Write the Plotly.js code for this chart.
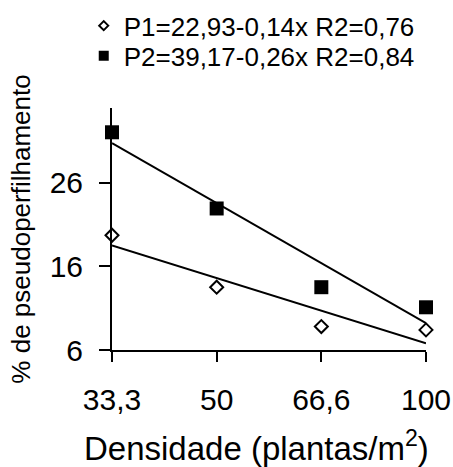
<!DOCTYPE html>
<html>
<head>
<meta charset="utf-8">
<script src="https://cdn.plot.ly/plotly-3.0.1.min.js"></script>
<style>html,body{margin:0;padding:0;background:#fff;}#chart{width:453px;height:467px;}</style>
</head>
<body>
<div id="chart"></div>
<script>
// Data
var densidade = ["33,3", "50", "66,6", "100"];
var p1Values = [19.7, 13.5, 8.8, 8.4];
var p2Values = [32.0, 22.9, 13.5, 11.1];
// Trend lines (endpoints)
var trendX = ["33,3", "100"];
var p1Trend = [18.5, 6.8];
var p2Trend = [30.7, 9.2];
var p1Label = "P1=22,93-0,14x R2=0,76";
var p2Label = "P2=39,17-0,26x R2=0,84";
var yTicks = [6, 16, 26];
var xTitle = "Densidade (plantas/m<sup>2</sup>)";
var yTitle = "% de pseudoperfilhamento";

var font = "Liberation Sans, Arial, sans-serif";

var traces = [
  {x: trendX, y: p1Trend, mode: "lines", line: {color: "black", width: 2}, showlegend: false, hoverinfo: "skip"},
  {x: trendX, y: p2Trend, mode: "lines", line: {color: "black", width: 2}, showlegend: false, hoverinfo: "skip"},
  {x: densidade, y: p1Values, mode: "markers", showlegend: false, cliponaxis: false,
   marker: {symbol: "diamond", size: 10, color: "white", line: {color: "black", width: 2}}},
  {x: densidade, y: p2Values, mode: "markers", showlegend: false, cliponaxis: false,
   marker: {symbol: "square", size: 14, color: "black", line: {color: "black", width: 0}}},
  {x: [null], y: [null], mode: "markers", name: p1Label, legend: "legend",
   marker: {symbol: "diamond", size: 7, color: "white", line: {color: "black", width: 2}}},
  {x: [null], y: [null], mode: "markers", name: p2Label, legend: "legend2",
   marker: {symbol: "square", size: 10, color: "black", line: {color: "black", width: 0}}}
];

var legendFont = {family: font, size: 26, color: "black"};

var layout = {
  width: 453, height: 467,
  margin: {l: 112, r: 27, t: 108, b: 117, pad: 0, autoexpand: false},
  paper_bgcolor: "white", plot_bgcolor: "white",
  font: {family: font, color: "black"},
  showlegend: true,
  legend: {x: -0.09, xanchor: "left", y: 1.437, yanchor: "top",
           font: legendFont, bgcolor: "rgba(0,0,0,0)"},
  legend2: {x: -0.09, xanchor: "left", y: 1.313, yanchor: "top",
           font: legendFont, bgcolor: "rgba(0,0,0,0)"},
  xaxis: {
    type: "category", categoryorder: "array", categoryarray: densidade,
    range: [0, 3], showgrid: false, zeroline: false, automargin: false,
    showline: true, linecolor: "black", linewidth: 2,
    ticks: "outside", ticklen: 10, tickwidth: 2, tickcolor: "black",
    ticklabelstandoff: 12,
    tickfont: {family: font, size: 30, color: "black"}
  },
  yaxis: {
    range: [6, 34.9], tickvals: yTicks, ticktext: yTicks.map(String),
    showgrid: false, zeroline: false, automargin: false,
    showline: true, linecolor: "black", linewidth: 2,
    ticks: "outside", ticklen: 11, tickwidth: 2, tickcolor: "black",
    ticklabelstandoff: 10,
    tickfont: {family: font, size: 30, color: "black"},
    title: {text: yTitle, font: {family: font, size: 26, color: "black"}, standoff: 12}
  },
  annotations: [
    {text: xTitle, xref: "paper", yref: "paper", x: 0.459, y: -0.398,
     xanchor: "center", yanchor: "middle", showarrow: false,
     font: {family: font, size: 33, color: "black"}}
  ]
};

Plotly.newPlot("chart", traces, layout, {displayModeBar: false, staticPlot: true});
</script>
</body>
</html>
